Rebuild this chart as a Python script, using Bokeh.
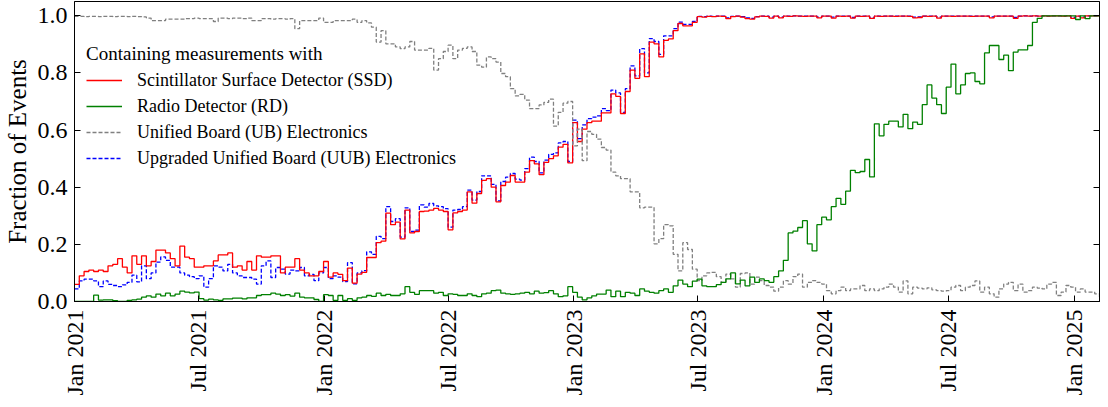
import math
import datetime as dt
import numpy as np
from bokeh.plotting import figure
from bokeh.models import (ColumnDataSource, Range1d, FixedTicker, DatetimeTickFormatter,
                          LinearAxis, Legend, LegendItem, CustomLabelingPolicy)
from bokeh.embed import file_html
from bokeh.resources import INLINE

# ---------------- data (weekly bins starting 2021-01-01) ----------------
bin_start = "2021-01-01"
bin_days = 7

ssd = [
    0.06, 0.09, 0.105, 0.11, 0.105, 0.11, 0.105, 0.125, 0.13, 0.15,
    0.12, 0.10, 0.16, 0.13, 0.16, 0.125, 0.14, 0.18, 0.18, 0.17,
    0.15, 0.125, 0.194, 0.155, 0.15, 0.12, 0.12, 0.125, 0.125, 0.142,
    0.163, 0.163, 0.17, 0.12, 0.125, 0.11, 0.14, 0.11, 0.16, 0.155,
    0.155, 0.16, 0.16, 0.10, 0.12, 0.12, 0.15, 0.11, 0.10, 0.09,
    0.09, 0.105, 0.14, 0.085, 0.10,
    0.095, 0.073, 0.117, 0.064, 0.096, 0.102, 0.154, 0.154, 0.206, 0.211,
    0.309, 0.269, 0.278, 0.219, 0.32, 0.24, 0.245, 0.315, 0.316, 0.32,
    0.326, 0.32, 0.315, 0.251, 0.31, 0.315, 0.32, 0.384, 0.344, 0.378,
    0.424, 0.43, 0.40, 0.349, 0.406, 0.418, 0.441, 0.418, 0.418, 0.453,
    0.493, 0.482, 0.444, 0.487, 0.50, 0.51, 0.54, 0.55, 0.485, 0.626,
    0.56, 0.603, 0.626, 0.631, 0.631, 0.66, 0.66, 0.727, 0.718, 0.658,
    0.735, 0.81, 0.781, 0.867, 0.787, 0.908, 0.902, 0.856, 0.914, 0.919,
    0.948, 0.973, 0.965, 0.965, 0.977, 0.997,
    0.995, 0.998, 0.997, 0.999, 0.998, 0.99, 0.997, 0.999, 0.995, 0.99,
    0.988, 0.996, 0.999, 0.998, 0.992, 0.999, 0.993, 0.999, 0.998, 1.0,
    0.999, 0.998, 0.999, 0.999, 0.993, 0.999, 0.999, 0.992, 0.999, 0.998,
    0.999, 0.992, 0.999, 0.998, 0.999, 0.991, 0.999, 0.998, 0.999, 0.999,
    0.998, 0.999, 0.999, 0.998, 0.993, 0.994, 0.999, 0.998, 0.999, 0.992,
    0.999, 0.999, 0.998, 0.999, 0.999, 0.999, 0.998, 0.999, 0.999, 0.999,
    0.993, 0.999, 0.999, 0.999, 0.999, 0.991, 0.999, 1.0, 0.999, 1.0,
    0.999, 1.0, 0.999, 1.0, 1.0, 0.999, 1.0, 0.991, 0.999, 0.993,
    1.0, 1.0, 1.0,
]

uub = [
    0.044, 0.072, 0.078, 0.078, 0.072, 0.052, 0.072, 0.06, 0.056, 0.052,
    0.058, 0.067, 0.092, 0.069, 0.125, 0.08, 0.10, 0.138, 0.156, 0.144,
    0.12, 0.12, 0.10, 0.092, 0.087, 0.08, 0.09, 0.05, 0.08, 0.125,
    0.12, 0.107, 0.13, 0.10, 0.09, 0.084, 0.084, 0.078, 0.061, 0.125,
    0.142, 0.084, 0.119, 0.113, 0.096, 0.11, 0.107, 0.119, 0.09, 0.095,
    0.073, 0.10, 0.119, 0.08, 0.09,
    0.085, 0.07, 0.136, 0.062, 0.10, 0.108, 0.174, 0.165, 0.228, 0.22,
    0.332, 0.28, 0.29, 0.225, 0.328, 0.245, 0.25, 0.338, 0.33, 0.343,
    0.335, 0.332, 0.325, 0.26, 0.32, 0.322, 0.332, 0.39, 0.355, 0.385,
    0.44, 0.44, 0.41, 0.352, 0.42, 0.435, 0.448, 0.428, 0.425, 0.465,
    0.505, 0.49, 0.45, 0.495, 0.515, 0.52, 0.555, 0.56, 0.49, 0.635,
    0.57, 0.618, 0.64, 0.645, 0.65, 0.675, 0.668, 0.74, 0.73, 0.662,
    0.745, 0.825, 0.79, 0.885, 0.80, 0.92, 0.91, 0.865, 0.93, 0.93,
    0.955, 0.978, 0.97, 0.97, 0.98, 0.998,
    0.997, 0.999, 0.998, 0.999, 0.999, 0.993, 0.998, 0.999, 0.997, 0.993,
    0.991, 0.997, 0.999, 0.999, 0.995, 0.999, 0.995, 0.999, 0.999, 1.0,
    0.999, 0.999, 0.999, 0.999, 0.995, 0.999, 0.999, 0.995, 0.999, 0.999,
    0.999, 0.994, 0.999, 0.999, 0.999, 0.993, 0.999, 0.999, 0.999, 0.999,
    0.999, 0.999, 0.999, 0.999, 0.995, 0.996, 0.999, 0.999, 0.999, 0.995,
    0.999, 0.999, 0.999, 0.999, 0.999, 0.999, 0.999, 0.999, 0.999, 0.999,
    0.996, 0.999, 0.999, 0.999, 0.999, 0.994, 0.999, 1.0, 0.999, 1.0,
    0.999, 1.0, 0.999, 1.0, 1.0, 0.999, 1.0, 0.994, 0.999, 0.995,
    1.0, 1.0, 1.0,
]

rd = [
    0.0, 0.0, 0.0, 0.0, 0.022, 0.005, 0.006, 0.006, 0.003, 0.0,
    0.0, 0.004, 0.006, 0.008, 0.015, 0.02, 0.015, 0.026, 0.02, 0.029,
    0.02, 0.026, 0.036, 0.033, 0.03, 0.033, 0.01, 0.005, 0.008, 0.006,
    0.004, 0.009, 0.009, 0.012, 0.012, 0.009, 0.013, 0.013, 0.021, 0.024,
    0.024, 0.029, 0.026, 0.021, 0.024, 0.019, 0.029, 0.015, 0.013, 0.013,
    0.007, 0.0, 0.024, 0.021, 0.004, 0.021, 0.004, 0.01, 0.004, 0.013,
    0.015, 0.021, 0.018, 0.029, 0.021, 0.025, 0.021, 0.021, 0.027, 0.052,
    0.032, 0.025, 0.038, 0.038, 0.038, 0.029, 0.032, 0.021, 0.027, 0.025,
    0.021, 0.021, 0.027, 0.021, 0.017, 0.027, 0.029, 0.038, 0.04, 0.029,
    0.027, 0.025, 0.027, 0.029, 0.032, 0.027, 0.036, 0.029, 0.031, 0.038,
    0.027, 0.017, 0.02, 0.052, 0.032, 0.015, 0.006, 0.013, 0.02, 0.026,
    0.026, 0.04, 0.017, 0.036, 0.017, 0.032, 0.029, 0.021, 0.044, 0.036,
    0.032, 0.029, 0.038, 0.044, 0.032, 0.055, 0.075, 0.061, 0.052, 0.071,
    0.078, 0.055, 0.052, 0.052, 0.059, 0.067, 0.079, 0.10, 0.062, 0.075,
    0.055, 0.085, 0.067, 0.079, 0.073, 0.067, 0.087, 0.107, 0.144, 0.24,
    0.246, 0.259, 0.283, 0.202, 0.177, 0.269, 0.295, 0.286, 0.332, 0.361,
    0.34, 0.386, 0.459, 0.451, 0.455, 0.497, 0.436, 0.622, 0.58, 0.62,
    0.631, 0.631, 0.611, 0.655, 0.605, 0.628, 0.62, 0.689, 0.758, 0.712,
    0.689, 0.658, 0.75, 0.831, 0.727, 0.758, 0.798, 0.80, 0.77, 0.762,
    0.87, 0.896, 0.896, 0.847, 0.862, 0.808, 0.873, 0.881, 0.881, 0.896,
    0.977, 0.991, 1.0, 1.0, 1.0, 1.0, 1.0, 1.0, 1.0, 0.987,
    1.0, 0.99, 1.0, 1.0, 1.0,
]

ub = [
    0.998, 0.998, 0.997, 0.998, 0.998, 0.997, 0.998, 0.998, 0.997, 0.998,
    0.998, 0.997, 0.998, 0.997, 0.996, 0.992, 0.983, 0.983, 0.983, 0.988,
    0.988, 0.988, 0.988, 0.99, 0.99, 0.992, 0.99, 0.99, 0.99, 0.98,
    0.992, 0.992, 0.99, 0.992, 0.992, 0.99, 0.992, 0.983, 0.983, 0.99,
    0.99, 0.988, 0.99, 0.99, 0.988, 0.99, 0.955, 0.983, 0.983, 0.983,
    0.983, 0.992, 0.977, 0.977, 0.983, 0.983, 0.983, 0.983, 0.988, 0.977,
    0.983, 0.975, 0.96, 0.908, 0.948, 0.902, 0.902, 0.891, 0.885, 0.891,
    0.91, 0.88, 0.88, 0.88, 0.886, 0.81, 0.85, 0.875, 0.897, 0.85,
    0.88, 0.886, 0.891, 0.875, 0.827, 0.82, 0.856, 0.85, 0.838, 0.798,
    0.787, 0.745, 0.72, 0.725, 0.705, 0.675, 0.675, 0.688, 0.697, 0.708,
    0.614, 0.662, 0.694, 0.70, 0.545, 0.603, 0.493, 0.595, 0.585, 0.568,
    0.539, 0.53, 0.453, 0.44, 0.43, 0.43, 0.384, 0.384, 0.328, 0.33,
    0.33, 0.202, 0.22, 0.269, 0.265, 0.165, 0.107, 0.206, 0.182, 0.113,
    0.073, 0.09, 0.10, 0.102, 0.087, 0.067, 0.096, 0.079, 0.05, 0.098,
    0.10, 0.061, 0.085, 0.073, 0.056, 0.05, 0.036, 0.05, 0.073, 0.061,
    0.087, 0.096, 0.05, 0.067, 0.073, 0.067, 0.061, 0.038, 0.027, 0.038,
    0.05, 0.038, 0.044, 0.044, 0.056, 0.038, 0.044, 0.038, 0.044, 0.05,
    0.061, 0.05, 0.033, 0.072, 0.027, 0.05, 0.047, 0.044, 0.048, 0.041,
    0.038, 0.036, 0.038, 0.05, 0.056, 0.038, 0.05, 0.056, 0.072, 0.033,
    0.05, 0.027, 0.015, 0.044, 0.061, 0.067, 0.038, 0.061, 0.033, 0.038,
    0.05, 0.047, 0.044, 0.061, 0.067, 0.021, 0.033, 0.056, 0.05, 0.033,
    0.044, 0.033, 0.033, 0.027, 0.015,
]

x_tick_dates = ["2021-01-01", "2021-07-01", "2022-01-01", "2022-07-01", "2023-01-01",
                "2023-07-01", "2024-01-01", "2024-07-01", "2025-01-01"]
y_ticks = [0.0, 0.2, 0.4, 0.6, 0.8, 1.0]
y_tick_labels = ["0.0", "0.2", "0.4", "0.6", "0.8", "1.0"]

legend_title = "Containing measurements with"
labels = ["Scintillator Surface Detector (SSD)", "Radio Detector (RD)",
          "Unified Board (UB) Electronics", "Upgraded Unified Board (UUB) Electronics"]

# ---------------- build ----------------
n_bins = len(ssd)
start = np.datetime64(bin_start)
edges = start + np.arange(n_bins + 1) * np.timedelta64(bin_days, "D")


def src(vals):
    return ColumnDataSource(dict(x=edges, y=list(vals) + [vals[-1]]))


FONT = "Liberation Serif"
x_start = dt.datetime(2021, 1, 1)
x_end = x_start + dt.timedelta(days=bin_days * n_bins)

p = figure(width=1100, height=399, x_axis_type="datetime",
           x_range=Range1d(x_start, x_end), y_range=Range1d(0, 1.05),
           output_backend="svg", toolbar_location=None,
           min_border_left=67, min_border_right=1, min_border_top=1, min_border_bottom=98)
p.grid.visible = False
p.outline_line_color = "black"
p.outline_line_width = 1
p.background_fill_color = "white"
p.border_fill_color = "white"

lw = 1.3
r_uub = p.step(x="x", y="y", source=src(uub), mode="after", line_color="blue",
               line_width=lw, line_dash="4 2")
r_ssd = p.step(x="x", y="y", source=src(ssd), mode="after", line_color="red", line_width=lw)
r_ub = p.step(x="x", y="y", source=src(ub), mode="after", line_color="gray",
              line_width=lw, line_dash="4 2")
r_rd = p.step(x="x", y="y", source=src(rd), mode="after", line_color="green", line_width=lw)

# x axis
tick_ms = [np.datetime64(d, "ms").astype("int64").item() for d in x_tick_dates]
xa = p.xaxis[0]
xa.ticker = FixedTicker(ticks=tick_ms)
xa.formatter = DatetimeTickFormatter(days="%b %Y", months="%b %Y", years="%b %Y",
                                     hours="%b %Y", minutes="%b %Y", seconds="%b %Y")
xa.major_label_orientation = math.pi / 2
xa.major_label_text_font = FONT
xa.major_label_text_font_size = "24px"
xa.major_label_text_color = "black"
xa.major_label_standoff = 8
xa.major_tick_in = 6
xa.major_tick_out = 0
xa.minor_tick_line_color = None
xa.axis_line_color = "black"
xa.major_tick_line_color = "black"

# y axis
ya = p.yaxis[0]
ya.ticker = FixedTicker(ticks=y_ticks)
ya.major_label_overrides = {t: l for t, l in zip(y_ticks, y_tick_labels)}
ya.major_label_text_font = FONT
ya.major_label_text_font_size = "24px"
ya.major_label_text_color = "black"
ya.major_label_standoff = 7
ya.major_tick_in = 6
ya.major_tick_out = 0
ya.minor_tick_line_color = None
ya.axis_line_color = "black"
ya.major_tick_line_color = "black"
ya.axis_label = "Fraction of Events"
ya.axis_label_text_font = FONT
ya.axis_label_text_font_size = "25px"
ya.axis_label_text_font_style = "normal"
ya.axis_label_text_color = "black"
ya.axis_label_standoff = 4

# mirrored right ticks (no labels)
ra = LinearAxis(ticker=FixedTicker(ticks=y_ticks))
ra.major_label_policy = CustomLabelingPolicy(
    code="for (const i of indices) { indices.unset(i) } return indices")
ra.major_label_text_font_size = "0px"
ra.major_label_standoff = 0
ra.major_tick_in = 6
ra.major_tick_out = 0
ra.minor_tick_line_color = None
ra.axis_line_color = "black"
ra.major_tick_line_color = "black"
p.add_layout(ra, "right")

legend = Legend(items=[LegendItem(label=labels[0], renderers=[r_ssd]),
                       LegendItem(label=labels[1], renderers=[r_rd]),
                       LegendItem(label=labels[2], renderers=[r_ub]),
                       LegendItem(label=labels[3], renderers=[r_uub])],
                title=legend_title, location=(12, 132))
legend.title_text_font = FONT
legend.title_text_font_size = "19px"
legend.title_text_font_style = "normal"
legend.title_text_color = "black"
legend.title_standoff = 4
legend.label_text_font = FONT
legend.label_text_font_size = "18px"
legend.label_text_color = "black"
legend.glyph_width = 36
legend.glyph_height = 22
legend.label_height = 22
legend.label_standoff = 15
legend.spacing = 4
legend.padding = 0
legend.margin = 0
legend.border_line_alpha = 0
legend.background_fill_alpha = 0
p.add_layout(legend)

open("out.html", "w").write(file_html(p, INLINE))
